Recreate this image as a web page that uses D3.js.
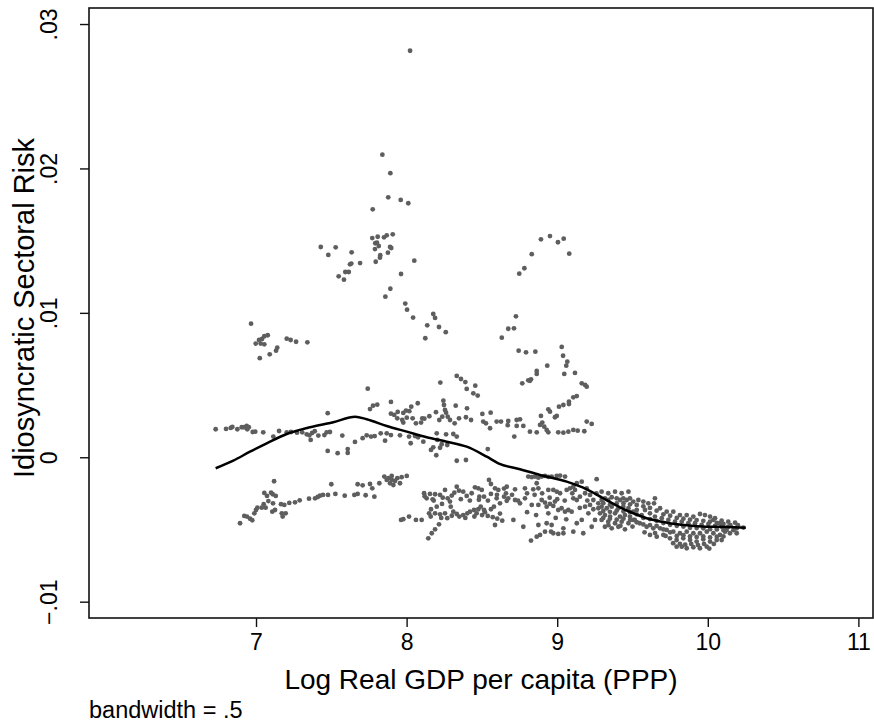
<!DOCTYPE html>
<html>
<head>
<meta charset="utf-8">
<script src="https://cdn.jsdelivr.net/npm/d3@7/dist/d3.min.js"></script>
<style>
  html, body { margin: 0; padding: 0; background: #fff; }
  svg { display: block; }
  text { font-family: "Liberation Sans", Arial, Helvetica, sans-serif; fill: #000; }
</style>
</head>
<body>
<svg id="chart" width="874" height="728"></svg>
<script>
// Observations: [log real GDP per capita (PPP), idiosyncratic sectoral risk]
const obsHigh = [
  [8.023,0.02815],[7.839,0.02095],[7.892,0.01967],[7.878,0.01800],[7.961,0.01782],[8.011,0.01759],[7.775,0.01717],
  [7.772,0.01518],[7.808,0.01527],[7.850,0.01523],[7.868,0.01537],[7.908,0.01544],[7.792,0.01482],[7.803,0.01486],
  [7.815,0.01463],[7.790,0.01442],[7.890,0.01456],[7.898,0.01449],[7.876,0.01417],[7.825,0.01399],[7.823,0.01382],
  [7.795,0.01354],[8.051,0.01361],[7.430,0.01456],[7.480,0.01401],[7.529,0.01454],[7.635,0.01419],[7.624,0.01336],
  [7.633,0.01341],[7.691,0.01345],[7.593,0.01283],[7.616,0.01283],[7.549,0.01253],[7.584,0.01230],[7.963,0.01269],
  [7.892,0.01167],[7.859,0.01112],[7.991,0.01064],[8.003,0.01022],[8.043,0.00967],[8.177,0.00992],[8.189,0.00965],
  [8.137,0.00914],[8.215,0.00902],[8.260,0.00866],[8.124,0.00824],[6.967,0.00925],
  [8.892,0.01509],[8.952,0.01532],[9.005,0.01489],[9.043,0.01514],[9.080,0.01410],[8.831,0.01406],[8.782,0.01309],
  [8.748,0.01271],[8.726,0.00976],[8.713,0.00893],[8.675,0.00890],[8.632,0.00828],
  [6.998,0.00787],[7.031,0.00787],[7.055,0.00782],[7.020,0.00812],[7.040,0.00819],[7.055,0.00838],[7.078,0.00845],
  [7.141,0.00759],[7.133,0.00738],[7.091,0.00713],[7.025,0.00686],[7.204,0.00821],[7.230,0.00812],[7.266,0.00800],
  [7.341,0.00796],
  [8.744,0.00738],[8.793,0.00727],[8.855,0.00731],[9.030,0.00764],[9.039,0.00703],[9.067,0.00662],[9.060,0.00634],
  [8.934,0.00634],[8.864,0.00598],[8.864,0.00577],[9.047,0.00577],[9.118,0.00584],[8.826,0.00540],[8.808,0.00533]
];

const obsMid = [
  [6.732,0.00194],[6.801,0.00196],[6.832,0.00203],[6.843,0.00210],[6.876,0.00194],[6.905,0.00208],[6.920,0.00208],
  [6.938,0.00217],[6.952,0.00208],[6.942,0.00194],[6.978,0.00175],[6.995,0.00177],[7.048,0.00173],[7.115,0.00143],
  [7.153,0.00182],[7.204,0.00173],[7.232,0.00175],[7.272,0.00170],[7.307,0.00173],[7.337,0.00159],[7.354,0.00152],
  [7.372,0.00168],[7.390,0.00180],[7.363,0.00120],[7.414,0.00150],[7.454,0.00154],[7.469,0.00173],[7.491,0.00175],
  [7.476,0.00305],[7.573,0.00150],[7.657,0.00106],[7.476,0.00044],[7.542,0.00028],[7.609,0.00057],[7.609,0.00030],
  [7.742,0.00475],[8.224,0.00517],[8.333,0.00563],[8.361,0.00542],[8.390,0.00521],[8.456,0.00496],[8.399,0.00473],
  [8.443,0.00443],[8.472,0.00427],[7.896,0.00383],[7.757,0.00334],[7.777,0.00357],[7.805,0.00364],[8.074,0.00374],
  [8.031,0.00350],[7.996,0.00323],[8.018,0.00319],[7.978,0.00307],[7.941,0.00314],[7.896,0.00302],[7.918,0.00293],
  [7.938,0.00270],[7.971,0.00258],[8.001,0.00274],[7.978,0.00240],[8.040,0.00270],[8.062,0.00235],[8.096,0.00240],
  [8.104,0.00270],[8.118,0.00267],[8.151,0.00284],[8.195,0.00312],[8.244,0.00392],[8.248,0.00362],[8.255,0.00328],
  [8.262,0.00309],[8.273,0.00281],[8.288,0.00258],[8.237,0.00281],[8.217,0.00258],[8.319,0.00235],[8.348,0.00270],
  [8.326,0.00357],[8.401,0.00339],[8.394,0.00277],[8.428,0.00258],[8.503,0.00300],[8.558,0.00309],[8.509,0.00247],
  [8.527,0.00235],[8.554,0.00201],[8.598,0.00247],[8.627,0.00247],[8.675,0.00251],[8.671,0.00222],
  [7.708,0.00132],[7.735,0.00152],[7.764,0.00143],[7.788,0.00147],[7.828,0.00166],[7.868,0.00166],[7.896,0.00154],
  [7.857,0.00115],[7.956,0.00152],[8.016,0.00143],[8.056,0.00147],[8.076,0.00138],[8.027,0.00097],[8.111,0.00108],
  [8.162,0.00051],[8.200,0.00166],[8.204,0.00120],[8.222,0.00066],[8.197,0.00014],[8.262,0.00159],[8.270,0.00085],
  [8.310,0.00161],[8.333,0.00143],[8.333,-0.00024],[8.394,-0.00019],[8.539,0.00057],[8.177,0.00069],[8.233,0.00090],
  [8.768,0.00512],[8.819,0.00530],[9.163,0.00512],[9.185,0.00501],[9.196,0.00489],[9.130,0.00424],[9.107,0.00415],
  [9.078,0.00385],[9.078,0.00369],[9.041,0.00362],[9.012,0.00350],[8.941,0.00332],[8.952,0.00316],[8.997,0.00286],
  [8.985,0.00277],[8.892,0.00286],[8.901,0.00240],[8.886,0.00224],[8.914,0.00212],[8.930,0.00189],[8.941,0.00173],
  [8.864,0.00173],[8.819,0.00177],[8.775,0.00217],[8.731,0.00258],[8.753,0.00263],[8.731,0.00217],[8.715,0.00143],
  [9.007,0.00173],[9.041,0.00170],[9.074,0.00177],[9.107,0.00189],[9.136,0.00184],[9.180,0.00180],[9.196,0.00247],
  [9.229,0.00231]
];

const obsLow = [
  [7.120,-0.00166],[7.055,-0.00247],[7.100,-0.00245],[7.111,-0.00256],[7.131,-0.00268],[7.073,-0.00268],[7.082,-0.00303],
  [7.113,-0.00319],[7.051,-0.00325],[7.038,-0.00349],[7.064,-0.00349],[7.009,-0.00349],[7.000,-0.00365],[6.989,-0.00388],
  [6.922,-0.00406],[6.940,-0.00411],[6.960,-0.00425],[6.975,-0.00436],[6.894,-0.00457],[7.108,-0.00377],[7.126,-0.00365],
  [7.166,-0.00325],[7.188,-0.00330],[7.171,-0.00388],[7.197,-0.00388],[7.177,-0.00411],[7.221,-0.00316],[7.259,-0.00312],
  [7.290,-0.00298],[7.352,-0.00287],[7.392,-0.00284],[7.410,-0.00275],[7.425,-0.00266],[7.445,-0.00261],[7.478,-0.00261],
  [7.500,-0.00187],[7.527,-0.00254],[7.589,-0.00266],[7.653,-0.00261],[7.675,-0.00254],[7.675,-0.00187],
  [7.708,-0.00194],[7.728,-0.00263],[7.757,-0.00185],[7.772,-0.00215],[7.786,-0.00273],[7.819,-0.00180],[7.852,-0.00134],
  [7.879,-0.00145],[7.890,-0.00180],[7.901,-0.00157],[7.912,-0.00192],[7.938,-0.00145],[7.956,-0.00180],[7.967,-0.00138],
  [8.001,-0.00129],[7.868,-0.00157],[7.923,-0.00164],[7.901,-0.00129],
  [8.116,-0.00249],[8.155,-0.00254],[8.189,-0.00256],[8.222,-0.00261],[8.133,-0.00284],[8.173,-0.00291],[8.273,-0.00284],
  [8.288,-0.00307],[8.255,-0.00226],[8.333,-0.00204],[8.348,-0.00231],[8.317,-0.00245],[8.376,-0.00238],[8.399,-0.00268],
  [8.432,-0.00249],[8.454,-0.00208],[8.476,-0.00215],[8.499,-0.00226],[8.483,-0.00273],[8.514,-0.00273],[8.547,-0.00157],
  [8.560,-0.00185],[8.587,-0.00215],[8.609,-0.00226],[8.647,-0.00217],[8.665,-0.00204],[8.560,-0.00254],[8.598,-0.00284],
  [8.647,-0.00273],[8.665,-0.00301],[8.620,-0.00319],[8.580,-0.00342],[8.235,-0.00323],[8.200,-0.00342],[8.162,-0.00360],
  [8.149,-0.00388],[8.189,-0.00388],[8.222,-0.00395],[8.255,-0.00388],[8.270,-0.00422],[8.293,-0.00342],[8.310,-0.00377],
  [8.333,-0.00393],[8.350,-0.00411],[8.376,-0.00400],[8.403,-0.00388],[8.421,-0.00377],[8.448,-0.00365],[8.465,-0.00388],
  [8.476,-0.00360],[8.492,-0.00342],[8.514,-0.00365],[8.539,-0.00406],[8.501,-0.00400],[8.572,-0.00415],[8.602,-0.00425],
  [8.635,-0.00439],[8.587,-0.00469],[8.100,-0.00434],[8.062,-0.00434],[8.016,-0.00411],[7.978,-0.00429],[7.963,-0.00434],
  [8.215,-0.00464],[8.189,-0.00499],[8.167,-0.00526],[8.144,-0.00561],
  [8.120,-0.00270],[8.180,-0.00300],[8.240,-0.00280],[8.300,-0.00265],[8.360,-0.00290],[8.420,-0.00300],[8.480,-0.00295],
  [8.540,-0.00300],[8.600,-0.00260],[8.160,-0.00410],[8.230,-0.00420],[8.300,-0.00405],[8.390,-0.00420],[8.450,-0.00410],
  [8.520,-0.00380],[8.560,-0.00360],[8.620,-0.00390],[8.660,-0.00250],[8.700,-0.00260],[8.740,-0.00300],
  [9.262,-0.00152],
  [8.808,-0.00134],[8.831,-0.00138],[8.853,-0.00134],[8.875,-0.00141],[8.897,-0.00134],[8.919,-0.00129],[8.941,-0.00136],
  [8.963,-0.00134],[8.997,-0.00129],[9.019,-0.00127],[9.052,-0.00134],[8.864,-0.00180],[8.875,-0.00215],[8.841,-0.00222],
  [8.786,-0.00215],[8.720,-0.00222],[8.675,-0.00284],[8.720,-0.00296],[8.753,-0.00319],[8.786,-0.00284],[8.831,-0.00330],
  [8.875,-0.00330],[8.897,-0.00296],[8.919,-0.00314],[8.930,-0.00342],[8.952,-0.00323],[8.974,-0.00337],[8.985,-0.00307],
  [8.941,-0.00388],[9.007,-0.00365],[9.029,-0.00353],[9.052,-0.00377],[9.074,-0.00365],[9.096,-0.00377],[9.107,-0.00284],
  [9.130,-0.00296],[9.151,-0.00273],[9.118,-0.00226],[8.941,-0.00226],[8.974,-0.00226],[8.997,-0.00238],[9.019,-0.00249],
  [9.063,-0.00226],[9.085,-0.00215],[9.107,-0.00204],[9.130,-0.00180],[9.163,-0.00169],[9.196,-0.00215],[9.185,-0.00249],
  [9.218,-0.00261],[9.185,-0.00342],[9.218,-0.00330],[9.240,-0.00296],[9.207,-0.00388],[9.163,-0.00434],[9.130,-0.00457],
  [9.041,-0.00492],[9.041,-0.00526],[9.007,-0.00531],[8.974,-0.00526],[8.959,-0.00515],[8.919,-0.00515],[8.886,-0.00538],
  [8.864,-0.00550],[8.826,-0.00577],[8.875,-0.00469],[8.930,-0.00457],[8.963,-0.00469],[8.775,-0.00481],[8.709,-0.00434],
  [9.173,-0.00526],[9.107,-0.00515],[9.229,-0.00481],[9.251,-0.00434],
  [8.800,-0.00250],[8.850,-0.00260],[8.900,-0.00250],[8.950,-0.00280],[9.000,-0.00290],[9.050,-0.00300],[9.100,-0.00250],
  [8.800,-0.00380],[8.860,-0.00400],[8.990,-0.00420],[9.060,-0.00430],[9.150,-0.00350],[9.200,-0.00300],[9.240,-0.00360],
  [9.260,-0.00250]
];

// High-income cluster, where observations overlap heavily
const obsDense = [
  [9.273,-0.00319],[9.295,-0.00296],[9.317,-0.00284],[9.339,-0.00296],[9.362,-0.00277],[9.395,-0.00284],[9.417,-0.00296],
  [9.439,-0.00284],[9.461,-0.00296],[9.483,-0.00284],[9.505,-0.00307],[9.295,-0.00342],[9.329,-0.00353],[9.362,-0.00342],
  [9.406,-0.00353],[9.439,-0.00342],[9.473,-0.00353],[9.505,-0.00377],[9.284,-0.00388],[9.317,-0.00400],[9.351,-0.00411],
  [9.384,-0.00388],[9.417,-0.00411],[9.450,-0.00400],[9.483,-0.00411],[9.295,-0.00434],[9.339,-0.00446],[9.384,-0.00457],
  [9.428,-0.00446],[9.473,-0.00457],[9.505,-0.00434],[9.317,-0.00481],[9.362,-0.00492],[9.406,-0.00481],[9.450,-0.00499],
  [9.339,-0.00249],[9.384,-0.00238],[9.428,-0.00249],[9.473,-0.00238],[9.295,-0.00238],[9.273,-0.00353],
  [9.539,-0.00296],[9.572,-0.00307],[9.605,-0.00319],[9.643,-0.00319],[9.683,-0.00353],[9.727,-0.00377],[9.771,-0.00377],
  [9.815,-0.00400],[9.860,-0.00400],[9.904,-0.00411],[9.948,-0.00393],[9.981,-0.00400],[10.015,-0.00411],[10.048,-0.00422],
  [10.092,-0.00439],[10.136,-0.00446],[10.181,-0.00453],[9.583,-0.00365],
  [9.528,-0.00365],[9.561,-0.00400],[9.616,-0.00388],[9.649,-0.00411],[9.694,-0.00422],[9.738,-0.00434],[9.782,-0.00446],
  [9.827,-0.00446],[9.871,-0.00457],[9.915,-0.00457],[9.959,-0.00469],[10.004,-0.00462],[10.048,-0.00476],[10.092,-0.00481],
  [10.136,-0.00481],[10.192,-0.00492],[10.236,-0.00487],
  [9.515,-0.00434],[9.548,-0.00457],[9.594,-0.00481],[9.638,-0.00492],[9.683,-0.00492],[9.727,-0.00503],[9.771,-0.00515],
  [9.815,-0.00526],[9.860,-0.00515],[9.904,-0.00526],[9.948,-0.00526],[9.993,-0.00515],[10.037,-0.00526],[10.081,-0.00538],
  [10.114,-0.00515],[10.147,-0.00526],
  [9.616,-0.00538],[9.661,-0.00550],[9.705,-0.00538],[9.749,-0.00561],[9.793,-0.00573],[9.837,-0.00561],[9.882,-0.00573],
  [9.926,-0.00584],[9.970,-0.00568],[10.015,-0.00584],[10.059,-0.00573],[10.092,-0.00573],[9.793,-0.00619],[9.827,-0.00619],
  [9.860,-0.00630],[9.904,-0.00623],[9.948,-0.00630],[9.993,-0.00619],
  [9.649,-0.00284],[10.125,-0.00503],[10.192,-0.00526],[10.081,-0.00457],[10.037,-0.00434],
  [9.306,-0.00318],[9.350,-0.00330],[9.395,-0.00320],[9.440,-0.00318],[9.484,-0.00326],[9.528,-0.00330],[9.572,-0.00340],
  [9.616,-0.00350],[9.660,-0.00370],[9.705,-0.00395],[9.750,-0.00405],[9.794,-0.00420],[9.838,-0.00425],[9.882,-0.00432],
  [9.926,-0.00435],[9.970,-0.00440],[10.015,-0.00445],[10.060,-0.00455],[10.104,-0.00462],[10.150,-0.00470],[10.200,-0.00470],
  [9.306,-0.00372],[9.350,-0.00378],[9.395,-0.00370],[9.440,-0.00375],[9.484,-0.00380],[9.528,-0.00395],[9.572,-0.00420],
  [9.616,-0.00428],[9.660,-0.00440],[9.705,-0.00455],[9.750,-0.00468],[9.794,-0.00475],[9.838,-0.00480],[9.882,-0.00488],
  [9.926,-0.00490],[9.970,-0.00492],[10.015,-0.00498],[10.060,-0.00500],[10.104,-0.00505],[10.170,-0.00505],
  [9.306,-0.00420],[9.350,-0.00425],[9.395,-0.00432],[9.440,-0.00425],[9.484,-0.00435],[9.528,-0.00450],[9.572,-0.00465],
  [9.616,-0.00470],[9.660,-0.00475],[9.705,-0.00500],[9.750,-0.00520],[9.794,-0.00545],[9.838,-0.00540],[9.882,-0.00548],
  [9.926,-0.00552],[9.970,-0.00548],[10.015,-0.00555],[10.060,-0.00550],[10.104,-0.00548],
  [9.340,-0.00470],[9.420,-0.00475],[9.500,-0.00480],[9.580,-0.00520],[9.650,-0.00525],[9.720,-0.00545],[9.770,-0.00595],
  [9.815,-0.00600],[9.850,-0.00605],[9.890,-0.00600],[9.935,-0.00608],[9.975,-0.00600],[10.040,-0.00600],[10.010,-0.00632]
];

// Lowess smoother (bandwidth .5), evaluated along log GDP
const lowessGdp  = [6.732, 6.849, 6.960, 7.071, 7.204, 7.359, 7.513, 7.659, 7.735, 7.868, 8.001, 8.133, 8.266, 8.399,
                    8.532, 8.609, 8.753, 8.886, 9.063, 9.196, 9.306, 9.417, 9.505, 9.594, 9.727, 9.860, 9.993, 10.125, 10.252];
const lowessRisk = [-0.000762, -0.000235, 0.000388, 0.000969, 0.001613, 0.002077, 0.002423, 0.002811, 0.002631, 0.002167,
                    0.001773, 0.001385, 0.001080, 0.000734, 0.000042, -0.000415, -0.000831, -0.001226, -0.001690, -0.002216,
                    -0.002839, -0.003462, -0.003878, -0.004224, -0.004528, -0.004708, -0.004805, -0.004826, -0.004875];

const xTicks = [7, 8, 9, 10, 11];
const yTicks = [-0.01, 0, 0.01, 0.02, 0.03];
const yTickLabels = ["\u2212.01", "0", ".01", ".02", ".03"];

const xTitle = "Log Real GDP per capita (PPP)";
const yTitle = "Idiosyncratic Sectoral Risk";
const note = "bandwidth = .5";

const svg = d3.select("#chart");
const plot = { left: 89, right: 873, top: 8, bottom: 618 };

const x = d3.scaleLinear().domain([5.891, 11.097]).range([plot.left, plot.right]);
const y = d3.scaleLinear().domain([-0.01113, 0.03111]).range([plot.bottom, plot.top]);

// scatter points
const allObs = obsHigh.concat(obsMid, obsLow, obsDense);
svg.append("g")
  .selectAll("circle")
  .data(allObs)
  .join("circle")
  .attr("cx", d => x(d[0]))
  .attr("cy", d => y(d[1]))
  .attr("r", 2.4)
  .attr("fill", "#5e5e5e");

// lowess curve
const lowessPts = lowessGdp.map((g, i) => [g, lowessRisk[i]]);
svg.append("path")
  .datum(lowessPts)
  .attr("fill", "none")
  .attr("stroke", "#000")
  .attr("stroke-width", 2.5)
  .attr("stroke-linejoin", "round")
  .attr("d", d3.line().x(d => x(d[0])).y(d => y(d[1])).curve(d3.curveMonotoneX));

// plot region frame
svg.append("rect")
  .attr("x", plot.left).attr("y", plot.top)
  .attr("width", plot.right - plot.left).attr("height", plot.bottom - plot.top)
  .attr("fill", "none").attr("stroke", "#111").attr("stroke-width", 1.6);

// x axis
const xAxis = svg.append("g")
  .attr("transform", `translate(0,${plot.bottom})`)
  .call(d3.axisBottom(x).tickValues(xTicks).tickSize(9).tickPadding(7).tickFormat(d3.format("d")));
xAxis.select(".domain").remove();
xAxis.selectAll(".tick line").attr("stroke", "#111").attr("stroke-width", 1.4);
xAxis.selectAll(".tick text")
  .attr("font-size", 23).attr("font-family", "Liberation Sans, Arial, sans-serif").attr("fill", "#000");

// y axis with rotated labels
const yAxis = svg.append("g")
  .attr("transform", `translate(${plot.left},0)`)
  .call(d3.axisLeft(y).tickValues(yTicks).tickSize(9).tickFormat((d, i) => yTickLabels[i]));
yAxis.select(".domain").remove();
yAxis.selectAll(".tick line").attr("stroke", "#111").attr("stroke-width", 1.4);
yAxis.selectAll(".tick text")
  .attr("font-size", 23).attr("font-family", "Liberation Sans, Arial, sans-serif").attr("fill", "#000")
  .attr("x", null).attr("dy", null)
  .attr("text-anchor", "middle")
  .attr("transform", "translate(-32,0) rotate(-90)");

// axis titles
svg.append("text")
  .attr("x", (plot.left + plot.right) / 2).attr("y", 689)
  .attr("text-anchor", "middle")
  .attr("font-size", 28)
  .text(xTitle);

svg.append("text")
  .attr("transform", `translate(34,${(plot.top + plot.bottom) / 2 - 5}) rotate(-90)`)
  .attr("text-anchor", "middle")
  .attr("font-size", 29)
  .text(yTitle);

svg.append("text")
  .attr("x", 89).attr("y", 718)
  .attr("font-size", 23.5)
  .text(note);
</script>
</body>
</html>
